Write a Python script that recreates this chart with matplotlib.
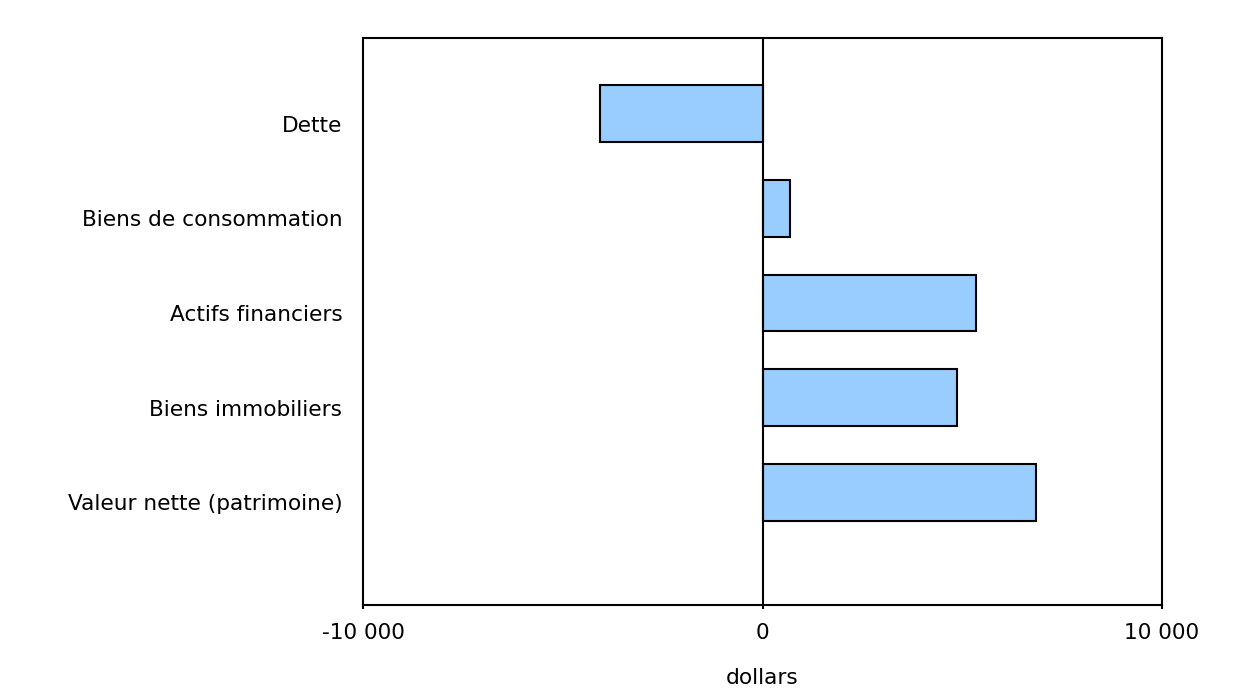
import matplotlib.pyplot as plt
from matplotlib.ticker import FuncFormatter
from matplotlib.transforms import ScaledTranslation

categories = [
    "Valeur nette (patrimoine)",
    "Biens immobiliers",
    "Actifs financiers",
    "Biens de consommation",
    "Dette",
]
values = [6850, 4870, 5340, 690, -4070]
x_ticks = [-10000, 0, 10000]

plt.rcParams["font.family"] = ["DejaVu Sans"]

fig = plt.figure(figsize=(12.48, 6.97), dpi=100)
ax = fig.add_axes([363 / 1248, 1 - 605 / 697, 799 / 1248, 567 / 697])

ax.barh(range(len(categories)), values, height=0.6, color="#99CCFF",
        edgecolor="black", linewidth=1.5, zorder=2)
ax.axvline(0, color="black", linewidth=1.5, zorder=3)

ax.set_xlim(-10000, 10000)
ax.set_ylim(-1.19, 4.8)
ax.set_xticks(x_ticks)
ax.xaxis.set_major_formatter(
    FuncFormatter(lambda v, p: f"{int(v):,}".replace(",", " ")))
ax.set_yticks(range(len(categories)))
ax.set_yticklabels(categories)
ax.tick_params(axis="y", length=0, pad=15, labelsize=15.6)
ax.tick_params(axis="x", length=3, width=1.5, pad=10, labelsize=15.6)
ax.set_xlabel("dollars", fontsize=15.6, labelpad=18)

# labels sit a little below the bar centres in the original
shift = ScaledTranslation(0, -10 / 100, fig.dpi_scale_trans)
for lbl in ax.get_yticklabels():
    lbl.set_transform(lbl.get_transform() + shift)

for s in ax.spines.values():
    s.set_linewidth(1.5)

fig.savefig("out.png", dpi=100)
